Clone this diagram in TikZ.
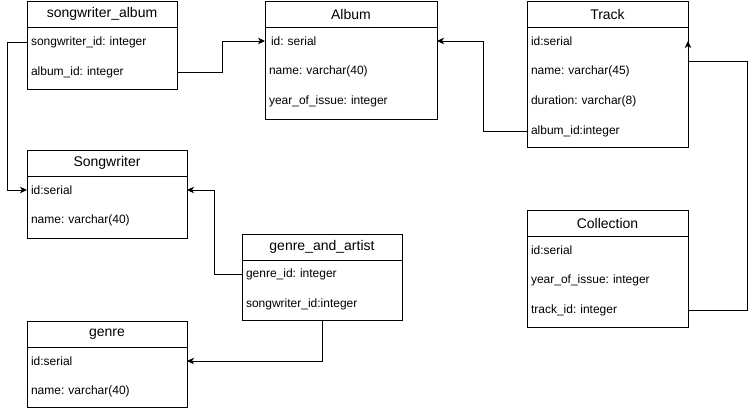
\documentclass[tikz,border=0pt]{standalone}
\usepackage{fontspec}
\setmainfont{Liberation Sans}
\usetikzlibrary{arrows.meta, positioning}
\frenchspacing

\begin{document}
\begin{tikzpicture}[
    x=1pt, y=-1pt,
    head/.style={
        rectangle,
        draw=black,
        line width=1pt,
        minimum width=#1,
        minimum height=26,
        inner sep=0pt,
        outer sep=0pt,
        anchor=north west,
        font=\fontsize{14}{16}\selectfont
    },
    body/.style={
        rectangle,
        draw=black,
        line width=1pt,
        minimum width=#1,
        inner sep=0pt,
        outer sep=0pt
    },
    row/.style={
        rectangle,
        text width=#1,
        align=left,
        minimum height=30,
        inner xsep=4pt,
        inner ysep=0pt,
        outer sep=0pt,
        anchor=north west,
        font=\fontsize{12}{14}\selectfont
    },
    arrow/.style={-{Stealth[length=7pt,width=6.5pt,inset=2pt]}, line width=1pt}
]

\useasboundingbox (0,0) rectangle (756,410);

% songwriter_album
\node[head=150] (sah) at (27,1) {songwriter\_album};
\node[body=150, minimum height=62, below=0pt of sah] (sab) {};
\node[row=142] (sa1) at ([yshift=0pt]sab.north west) {songwriter\_id: integer};
\node[row=142, below=0pt of sa1] (sa2) {album\_id: integer};

% Album
\node[head=172] (albh) at (265,1) {Album};
\node[body=172, minimum height=92, below=0pt of albh] (albb) {};
\node[row=164] (alb1) at ([yshift=1pt]albb.north west) {\hspace{2pt}id: serial};
\node[row=164, below=0pt of alb1] (alb2) {name: varchar(40)};
\node[row=164, below=0pt of alb2] (alb3) {year\_of\_issue: integer};

% Track
\node[head=161] (trkh) at (527,1) {Track};
\node[body=161, minimum height=120, below=0pt of trkh] (trkb) {};
\node[row=153] (trk1) at ([yshift=1pt]trkb.north west) {id:serial};
\node[row=153, below=0pt of trk1] (trk2) {name: varchar(45)};
\node[row=153, below=0pt of trk2] (trk3) {duration: varchar(8)};
\node[row=153, below=0pt of trk3] (trk4) {album\_id:integer};

% Songwriter
\node[head=160] (swh) at (27,150) {Songwriter};
\node[body=160, minimum height=62, below=0pt of swh] (swb) {};
\node[row=152] (sw1) at ([yshift=1pt]swb.north west) {id:serial};
\node[row=152, below=0pt of sw1] (sw2) {name: varchar(40)};

% Collection
\node[head=161] (colh) at (527,210) {Collection};
\node[body=161, minimum height=91, below=0pt of colh] (colb) {};
\node[row=153] (col1) at ([yshift=1pt]colb.north west) {id:serial};
\node[row=153, below=0pt of col1] (col2) {year\_of\_issue: integer};
\node[row=153, below=0pt of col2] (col3) {track\_id: integer};

% genre_and_artist
\node[head=160] (gah) at (242,234) {genre\_and\_artist};
\node[body=160, minimum height=60, below=0pt of gah] (gab) {};
\node[row=152] (ga1) at ([yshift=1pt]gab.north west) {genre\_id: integer};
\node[row=152, below=0pt of ga1] (ga2) {songwriter\_id:integer};

% genre
\node[head=160] (genh) at (27,321) {genre};
\node[body=160, minimum height=60, below=0pt of genh] (genb) {};
\node[row=152] (gen1) at ([yshift=1pt]genb.north west) {id:serial};
\node[row=152, below=0pt of gen1] (gen2) {name: varchar(40)};

% Arrows
\draw[arrow] (sa1.west) -- ++(-20,0) |- (sw1.west);

\draw[arrow] (sa2.east) -- ++(45,0) |- (alb1.west);

\draw[arrow] (trk4.west) -- ++(-44,0) |- (alb1.east);

\draw[arrow] (col3.east) -- ++(59,0) |- ([yshift=-20pt]trk1.east) -- (trk1.east);

\draw[arrow] (ga1.west) -- ++(-28,0) |- (sw1.east);

\draw[arrow] (gab.south) |- (gen1.east);

\end{tikzpicture}
\end{document}
